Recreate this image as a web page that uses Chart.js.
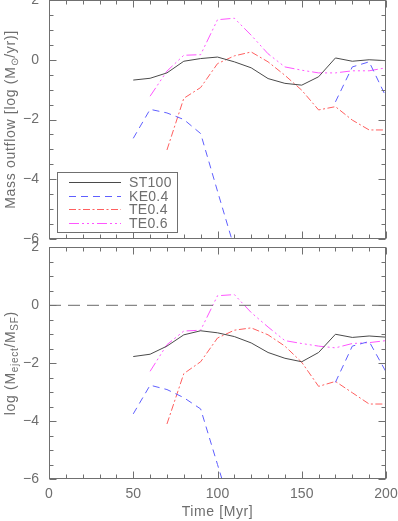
<!DOCTYPE html>
<html>
<head>
<meta charset="utf-8">
<script src="https://cdn.jsdelivr.net/npm/chart.js@4/dist/chart.umd.min.js"></script>
<style>
  html, body { margin: 0; padding: 0; background: #fff; overflow: hidden; }
  #wrap { position: relative; width: 398px; height: 521px; overflow: hidden; }
  canvas { position: absolute; left: 0; }
  #topChart { top: -20px; }
  #botChart { top: 229px; }
</style>
</head>
<body>
<div id="wrap">
  <canvas id="topChart" width="398" height="280"></canvas>
  <canvas id="botChart" width="398" height="292"></canvas>
</div>
<script>
// time axis (Myr)
const times = [50, 60, 70, 80, 90, 100, 110, 120, 130, 140, 150, 160, 170, 180, 190, 200];
const seriesNames = ['ST100', 'KE0.4', 'TE0.4', 'TE0.6'];

// upper panel: log mass outflow (Msun/yr)
const st100Out = [-0.68, -0.62, -0.44, -0.05, 0.04, 0.09, -0.07, -0.27, -0.63, -0.79, -0.85, -0.57, 0.06, -0.05, 0.0, -0.03];
const ke04Out  = [-2.63, -1.66, -1.78, -2.0, -2.47, -4.4, -6.3, null, null, null, null, null, -1.41, -0.24, -0.07, -1.24];
const te04Out  = [null, null, -3.02, -1.29, -0.93, -0.13, 0.13, 0.26, -0.07, -0.52, -1.02, -1.68, -1.57, -2.02, -2.35, -2.35];
const te06Out  = [null, -1.22, -0.38, 0.15, 0.17, 1.34, 1.39, 0.82, 0.2, -0.24, -0.35, -0.44, -0.44, -0.37, -0.37, -0.27];

// lower panel: log (M_eject / M_SF)
const st100Ej = [-1.77, -1.69, -1.41, -1.02, -0.88, -0.95, -1.08, -1.3, -1.63, -1.83, -1.95, -1.63, -1.0, -1.11, -1.06, -1.1];
const ke04Ej  = [-3.75, -2.76, -2.91, -3.19, -3.58, -5.5, -7.4, null, null, null, null, null, -2.66, -1.41, -1.25, -2.3];
const te04Ej  = [null, null, -4.1, -2.36, -1.95, -1.13, -0.86, -0.78, -1.02, -1.41, -1.97, -2.8, -2.63, -3.02, -3.41, -3.41];
const te06Ej  = [null, -2.28, -1.36, -0.89, -0.86, 0.33, 0.37, -0.25, -0.75, -1.22, -1.32, -1.41, -1.47, -1.32, -1.29, -1.22];

// reference line at 0 in the lower panel
const refX = [0, 200];
const refY = [0, 0];

const xTicks = [0, 50, 100, 150, 200];
const yTicks = [-6, -4, -2, 0, 2];

const FONT = 'Liberation Sans, Arial, sans-serif';
const GREY = '#6e6e6e';
const styles = [
  { color: '#4a4a4a', dash: [] },
  { color: 'rgb(95,95,255)', dash: [7, 5] },
  { color: 'rgb(255,95,95)', dash: [7, 2.5, 2, 2.5] },
  { color: 'rgb(255,85,255)', dash: [10, 3, 2, 3, 2, 3, 2, 3] }
];

function lineSets(list) {
  return list.map((ys, i) => ({
    label: seriesNames[i],
    data: times.map((t, k) => ({ x: t, y: ys[k] })),
    borderColor: styles[i].color,
    borderDash: styles[i].dash,
    borderWidth: 1,
    pointRadius: 0,
    pointHoverRadius: 0,
    tension: 0,
    fill: false,
    spanGaps: false
  }));
}

const minus = v => (v < 0 ? '\u2212' + Math.abs(v) : String(v));

// box round the plot with inward tick marks on all sides
const frame = {
  id: 'frame',
  afterDatasetsDraw(chart) {
    const { ctx, chartArea: a, scales: { x, y } } = chart;
    const L = Math.round(a.left) + 0.5, R = Math.round(a.right) - 0.5;
    const T = Math.round(a.top) + 0.5, B = Math.round(a.bottom) - 0.5;
    ctx.save();
    ctx.strokeStyle = '#707070';
    ctx.lineWidth = 1;
    ctx.setLineDash([]);
    ctx.strokeRect(L, T, R - L, B - T);
    ctx.beginPath();
    for (let v = x.min; v <= x.max; v += 10) {
      const px = Math.round(x.getPixelForValue(v)) + 0.5;
      const len = v % 50 === 0 ? 7 : 4;
      ctx.moveTo(px, B); ctx.lineTo(px, B - len);
      ctx.moveTo(px, T); ctx.lineTo(px, T + len);
    }
    for (let v = y.min; v <= y.max; v += 0.5) {
      const py = Math.round(y.getPixelForValue(v)) + 0.5;
      const len = v % 2 === 0 ? 7 : 4;
      ctx.moveTo(L, py); ctx.lineTo(L + len, py);
      ctx.moveTo(R, py); ctx.lineTo(R - len, py);
    }
    ctx.stroke();
    ctx.restore();
  }
};

// axis titles (rotated y title with subscripts, plain x title)
function richText(ctx, parts, size) {
  const subSize = Math.round(size * 0.72);
  let w = 0;
  const laid = parts.map(p => {
    ctx.font = (p.sub ? subSize : size) + 'px ' + FONT;
    const pw = ctx.measureText(p.t).width;
    w += pw;
    return { t: p.t, sub: p.sub, w: pw };
  });
  let cx = -w / 2;
  laid.forEach(p => {
    ctx.font = (p.sub ? subSize : size) + 'px ' + FONT;
    ctx.fillText(p.t, cx, p.sub ? 4 : 0);
    cx += p.w;
  });
}

const titles = {
  id: 'titles',
  afterDraw(chart, args, opts) {
    const { ctx, chartArea: a } = chart;
    ctx.save();
    ctx.fillStyle = GREY;
    ctx.textBaseline = 'middle';
    ctx.letterSpacing = '0.7px';
    ctx.translate(opts.yx, (a.top + a.bottom) / 2);
    ctx.rotate(-Math.PI / 2);
    richText(ctx, opts.y, 14);
    ctx.restore();
    if (opts.x) {
      ctx.save();
      ctx.fillStyle = GREY;
      ctx.textBaseline = 'middle';
      ctx.letterSpacing = '0.6px';
      ctx.translate((a.left + a.right) / 2, a.bottom + opts.xdy);
      richText(ctx, [{ t: opts.x }], 14);
      ctx.restore();
    }
  }
};

// legend box inside the upper panel
const boxLegend = {
  id: 'boxLegend',
  afterDatasetsDraw(chart, args, opts) {
    if (!opts.show) return;
    const { ctx } = chart;
    const bx = opts.left, by = opts.top;
    ctx.save();
    ctx.fillStyle = '#fff';
    ctx.fillRect(bx, by, opts.width, opts.height);
    ctx.strokeStyle = '#707070';
    ctx.lineWidth = 1;
    ctx.strokeRect(bx + 0.5, by + 0.5, opts.width, opts.height);
    ctx.font = '14px ' + FONT;
    ctx.textBaseline = 'middle';
    ctx.letterSpacing = '0.3px';
    chart.data.datasets.filter(d => d.label).forEach((d, i) => {
      const yy = Math.round(by + 10 + i * 13.5) + 0.5;
      ctx.strokeStyle = d.borderColor;
      ctx.setLineDash(d.borderDash || []);
      ctx.beginPath();
      ctx.moveTo(bx + 12, yy);
      ctx.lineTo(bx + 64, yy);
      ctx.stroke();
      ctx.fillStyle = GREY;
      ctx.fillText(d.label, bx + 72, yy + 1);
    });
    ctx.restore();
  }
};

function makePanel(id, datasets, o) {
  return new Chart(document.getElementById(id), {
    type: 'line',
    data: { datasets },
    options: {
      responsive: false,
      animation: false,
      devicePixelRatio: 1,
      events: [],
      layout: { autoPadding: false, padding: { left: 0, right: 12, top: o.padTop, bottom: 0 } },
      plugins: {
        legend: { display: false },
        tooltip: { enabled: false },
        titles: o.titles,
        boxLegend: o.legend || { show: false }
      },
      scales: {
        x: {
          type: 'linear', min: 0, max: 200,
          afterBuildTicks: s => { s.ticks = xTicks.map(v => ({ value: v })); },
          afterFit: s => { s.height = o.xHeight; },
          grid: { display: true, drawOnChartArea: false, drawTicks: true, tickLength: 7, tickColor: 'rgba(0,0,0,0)' },
          border: { display: false },
          ticks: { display: o.xLabels, color: GREY, padding: 0, maxRotation: 0, autoSkip: false, font: { family: FONT, size: 14 } }
        },
        y: {
          min: -6, max: 2,
          afterBuildTicks: s => { s.ticks = yTicks.map(v => ({ value: v })); },
          afterFit: s => { s.width = 49; },
          grid: { display: false, drawTicks: false },
          border: { display: false },
          ticks: { color: GREY, padding: 10, callback: minus, font: { family: FONT, size: 14 } }
        }
      }
    },
    plugins: [frame, titles, boxLegend]
  });
}

makePanel('topChart', lineSets([st100Out, ke04Out, te04Out, te06Out]), {
  padTop: 20, xHeight: 21, xLabels: false,
  titles: { yx: 11, y: [{ t: 'Mass outflow [log (M' }, { t: '\u2299', sub: true }, { t: '/yr)]' }] },
  legend: { show: true, left: 57, top: 192, width: 120, height: 60 }
});

const refSet = {
  label: '',
  data: refX.map((v, i) => ({ x: v, y: refY[i] })),
  borderColor: '#6a6a6a', borderDash: [12, 7], borderWidth: 1,
  pointRadius: 0, pointHoverRadius: 0, fill: false
};

makePanel('botChart', [refSet].concat(lineSets([st100Ej, ke04Ej, te04Ej, te06Ej])), {
  padTop: 10, xHeight: 42, xLabels: true,
  titles: {
    yx: 11,
    y: [{ t: 'log (M' }, { t: 'eject', sub: true }, { t: '/M' }, { t: 'SF', sub: true }, { t: ')' }],
    x: 'Time [Myr]', xdy: 33
  }
});
</script>
</body>
</html>
